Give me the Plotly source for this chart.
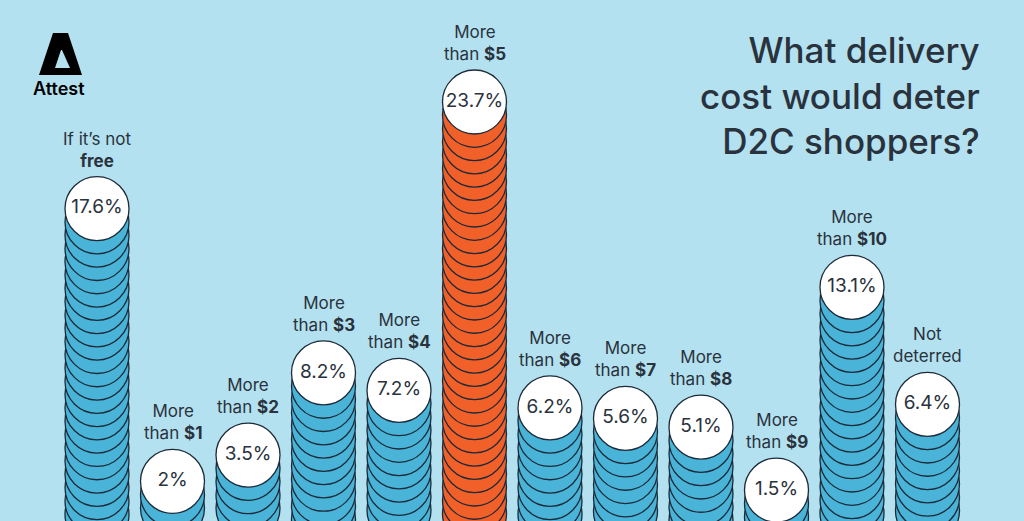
import plotly.graph_objects as go

# ---- data ----
categories = ["If it’s not free", "More than $1", "More than $2", "More than $3", "More than $4",
              "More than $5", "More than $6", "More than $7", "More than $8", "More than $9",
              "More than $10", "Not deterred"]
label_lines = ["If it’s not<br><b>free</b>", "More<br>than <b>$1</b>", "More<br>than <b>$2</b>",
               "More<br>than <b>$3</b>", "More<br>than <b>$4</b>", "More<br>than <b>$5</b>",
               "More<br>than <b>$6</b>", "More<br>than <b>$7</b>", "More<br>than <b>$8</b>",
               "More<br>than <b>$9</b>", "More<br>than <b>$10</b>", "Not<br>deterred"]
values = [17.6, 2.0, 3.5, 8.2, 7.2, 23.7, 6.2, 5.6, 5.1, 1.5, 13.1, 6.4]
value_text = ["17.6%", "2%", "3.5%", "8.2%", "7.2%", "23.7%", "6.2%", "5.6%", "5.1%", "1.5%", "13.1%", "6.4%"]
highlight = "More than $5"

# ---- style ----
W, H = 1024, 521
BG = "#b3e1ef"
BLUE = "#49b4d8"
ORANGE = "#f2602a"
OUTLINE = "#1d2a38"
TEXT = "#2a323d"
FONT = "Inter"
Y_MIN, Y_MAX = -0.27, 29.535
COIN_STEP = 0.76   # vertical spacing between stacked coins (data units)
COIN_SIZE = 64

fig = go.Figure()

for i, (cat, v) in enumerate(zip(categories, values)):
    ys = []
    y = v
    while y > Y_MIN - 3:
        ys.append(y)
        y -= COIN_STEP
    ys = ys[::-1]  # bottom first so upper coins overlap lower ones
    fill = ORANGE if cat == highlight else BLUE
    colors = [fill] * (len(ys) - 1) + ["#ffffff"]
    fig.add_trace(go.Scatter(
        x=[i] * len(ys), y=ys, mode="markers",
        marker=dict(symbol="circle", size=COIN_SIZE, color=colors,
                    line=dict(color=OUTLINE, width=1.3)),
        hoverinfo="skip", showlegend=False, cliponaxis=False))

fig.add_trace(go.Scatter(
    x=list(range(len(values))), y=values, mode="text", text=value_text,
    textposition="middle center",
    textfont=dict(family=FONT, size=19, color=TEXT),
    hoverinfo="skip", showlegend=False))

annotations = []
for i, (lab, v) in enumerate(zip(label_lines, values)):
    annotations.append(dict(
        x=i, y=v, xref="x", yref="y", text=lab, showarrow=False,
        yanchor="bottom", xanchor="center", yshift=36, align="center",
        font=dict(family=FONT, size=17, color=TEXT)))

annotations.append(dict(
    x=982 / W, y=1 - 27 / H, xref="paper", yref="paper",
    text="What delivery<br>cost would deter<br>D2C shoppers?",
    showarrow=False, xanchor="right", yanchor="top", align="right",
    font=dict(family=FONT, size=35, color=TEXT, weight=500)))

annotations.append(dict(
    x=59 / W, y=1 - 89 / H, xref="paper", yref="paper", text="Attest",
    showarrow=False, xanchor="center", yanchor="middle",
    font=dict(family=FONT, size=18, color="#000000", weight=600)))


def px_path(pts):
    return "M " + " L ".join(f"{x / W:.5f},{1 - y / H:.5f}" for x, y in pts) + " Z"


shapes = [
    dict(type="path", xref="paper", yref="paper",
         path=px_path([(39, 75), (53, 33), (68, 33), (82, 75)]),
         fillcolor="#000000", line=dict(width=0)),
    dict(type="path", xref="paper", yref="paper",
         path=px_path([(55, 68), (61, 50), (62, 50), (70, 68)]),
         fillcolor=BG, line=dict(width=0)),
]

x0 = -97 / 75.5
fig.update_layout(
    width=W, height=H, autosize=False,
    margin=dict(l=0, r=0, t=0, b=0),
    paper_bgcolor=BG, plot_bgcolor=BG,
    xaxis=dict(range=[x0, x0 + W / 75.5], visible=False, fixedrange=True),
    yaxis=dict(range=[Y_MIN, Y_MAX], visible=False, fixedrange=True),
    annotations=annotations, shapes=shapes,
    showlegend=False,
)

fig.write_html("out.html", config={"displayModeBar": False},
               post_script="document.body.style.margin='0px';document.body.style.background='" + BG + "';")
